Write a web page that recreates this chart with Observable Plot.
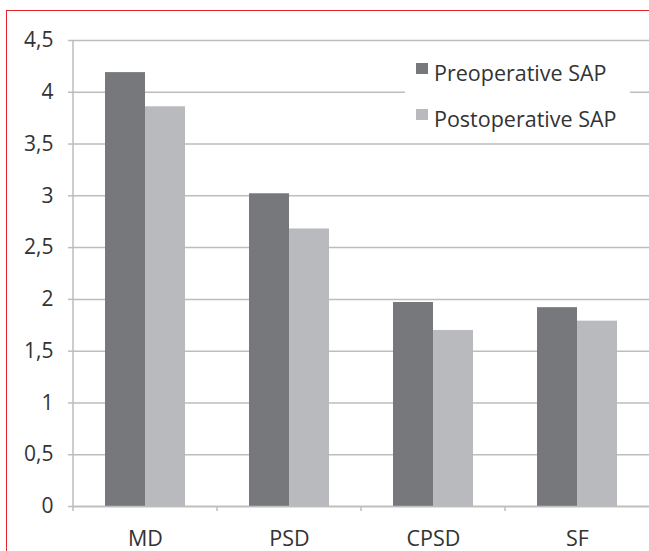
<!DOCTYPE html>
<html><head><meta charset="utf-8">
<script src="https://cdn.jsdelivr.net/npm/d3@7"></script>
<script src="https://cdn.jsdelivr.net/npm/@observablehq/plot@0.6"></script>
<style>
body{margin:0;background:#fff;}
#wrap{position:relative;width:649px;height:551px;overflow:hidden;background:#fff;}
#wrap svg{position:absolute;left:0;top:0;}
#border{position:absolute;left:6px;top:10px;width:700px;height:600px;border-left:1.5px solid #e3252b;border-top:1.5px solid #e3252b;pointer-events:none;}
</style></head><body><div id="wrap"></div>
<script>
const categories = ["MD", "PSD", "CPSD", "SF"];
const series = ["Preoperative SAP", "Postoperative SAP"];
const preValues = [4.19, 3.02, 1.97, 1.92];
const postValues = [3.86, 2.68, 1.70, 1.79];
const yTicks = [0, 0.5, 1, 1.5, 2, 2.5, 3, 3.5, 4, 4.5];
const colors = ["#77787c", "#b9babd"];

const rows = categories.flatMap((c, i) => [
  {category: c, series: series[0], value: preValues[i]},
  {category: c, series: series[1], value: postValues[i]}
]);
const fmt = d => String(d).replace(".", ",");
const gridColor = "#bdbdbd";
const font = "'Open Sans', sans-serif";

const chart = Plot.plot({
  width: 649, height: 551,
  marginLeft: 73, marginRight: 0, marginTop: 40, marginBottom: 45,
  style: {fontFamily: font, background: "transparent", color: "#333"},
  fx: {domain: categories, padding: 0, label: null},
  x: {domain: series, paddingInner: 0, paddingOuter: 0.76, axis: null},
  y: {domain: [0, 4.5], label: null},
  color: {domain: series, range: colors},
  marks: [
    Plot.gridY(yTicks, {stroke: gridColor, strokeWidth: 1.5, strokeOpacity: 1}),
    Plot.barY(rows, {fx: "category", x: "series", y: "value", fill: "series"}),
    Plot.ruleY([0], {stroke: gridColor, strokeWidth: 1.5}),
    Plot.axisY(yTicks, {tickSize: 5, tickPadding: 15, fontSize: 21, tickFormat: fmt, stroke: gridColor, strokeWidth: 1.5, fill: "#333", label: null}),
    Plot.axisFx({anchor: "bottom", tickSize: 0, tickPadding: 24, fontSize: 21.5, fill: "#333", label: null})
  ]
});

const svg = d3.select(chart);
const fxs = chart.scale("fx");
const ys = chart.scale("y");
const step = (fxs.range[1] - fxs.range[0]) / categories.length;
const y0 = ys.apply(0);
const g = svg.append("g").attr("stroke", gridColor).attr("stroke-width", 1.5);
// y-axis line
g.append("line").attr("x1", fxs.range[0]).attr("x2", fxs.range[0])
  .attr("y1", ys.apply(4.5)).attr("y2", y0 + 5);
// category boundary ticks
categories.forEach((c, i) => {
  if (i === 0) return;
  const x = fxs.range[0] + i * step;
  g.append("line").attr("x1", x).attr("x2", x).attr("y1", y0).attr("y2", y0 + 5);
});

// legend
const lg = svg.append("g").attr("text-anchor", "start");
lg.append("rect").attr("x", 405).attr("y", 46).attr("width", 225).attr("height", 90).attr("fill", "#fff");
series.forEach((s, i) => {
  lg.append("rect").attr("x", 416).attr("y", 63 + i * 46).attr("width", 12).attr("height", 11).attr("fill", colors[i]);
  lg.append("text").attr("x", 434).attr("y", 81 + i * 45.5).attr("text-anchor", "start")
    .attr("font-family", font).attr("font-size", 21.5).attr("fill", "#333").text(s);
});

const wrap = document.getElementById("wrap");
wrap.appendChild(chart);
const b = document.createElement("div"); b.id = "border"; wrap.appendChild(b);
</script></body></html>
